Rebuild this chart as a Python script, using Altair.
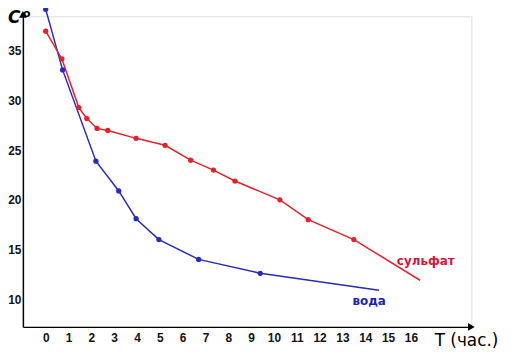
import altair as alt
import pandas as pd

# вода (water)
voda_t = [0, 0.74, 2.2, 3.2, 3.96, 4.96, 6.7, 9.4, 14.6]
voda_c = [39.2, 33.1, 23.9, 20.9, 18.1, 16.0, 14.0, 12.6, 10.9]
voda_mark = [1, 1, 1, 1, 1, 1, 1, 1, 0]

# сульфат
sulf_t = [0, 0.71, 1.45, 1.8, 2.25, 2.72, 3.96, 5.23, 6.35, 7.35, 8.29, 10.26, 11.5, 13.5, 16.4]
sulf_c = [37.0, 34.2, 29.3, 28.2, 27.2, 27.0, 26.2, 25.5, 24.0, 23.0, 21.9, 20.0, 18.0, 16.0, 11.9]
sulf_mark = [1] * 14 + [0]

x_ticks = list(range(0, 17))
y_ticks = [10, 15, 20, 25, 30, 35]

rows = []
for i, (t, c, m) in enumerate(zip(voda_t, voda_c, voda_mark)):
    rows.append({"series": "вода", "t": t, "c": c, "m": m, "i": i})
for i, (t, c, m) in enumerate(zip(sulf_t, sulf_c, sulf_mark)):
    rows.append({"series": "сульфат", "t": t, "c": c, "m": m, "i": i})
df = pd.DataFrame(rows)

FONT = "DejaVu Sans"
LFONT = "Liberation Sans"
xs = alt.Scale(domain=[-1, 18.65], nice=False, zero=False)
ys = alt.Scale(domain=[7.2, 38.5], nice=False, zero=False)
cs = alt.Scale(domain=["вода", "сульфат"], range=["#2a2ab8", "#e4202a"])

x_axis = alt.Axis(values=x_ticks, title=None, grid=False, ticks=False,
                  labelPadding=6, domainColor="black", domainWidth=1.5,
                  labelFontSize=12, labelFont=LFONT, labelFontWeight="bold",
                  labelColor="#111", labelOverlap=False)
y_axis = alt.Axis(values=y_ticks, title=None, grid=False, ticks=False,
                  labelPadding=2, domainColor="black", domainWidth=1.5,
                  labelFontSize=12, labelFont=LFONT, labelFontWeight="bold",
                  labelColor="#111", labelOverlap=False)

base = alt.Chart(df)
lines = base.mark_line(strokeWidth=1.5, clip=False).encode(
    x=alt.X("t:Q", scale=xs, axis=x_axis),
    y=alt.Y("c:Q", scale=ys, axis=y_axis),
    color=alt.Color("series:N", scale=cs, legend=None),
    detail="series:N",
    order="i:Q",
)
points = base.transform_filter("datum.m == 1").mark_circle(size=28, opacity=1, clip=False).encode(
    x=alt.X("t:Q", scale=xs, axis=x_axis),
    y=alt.Y("c:Q", scale=ys, axis=y_axis),
    color=alt.Color("series:N", scale=cs, legend=None),
)

ann = pd.DataFrame({"k": [0]})
ac = alt.Chart(ann)
arrow_y = ac.mark_point(shape="triangle-up", filled=True, color="black", size=60, opacity=1).encode(
    x=alt.value(0), y=alt.value(-2))
arrow_x = ac.mark_point(shape="triangle-right", filled=True, color="black", size=60, opacity=1).encode(
    x=alt.value(452), y=alt.value(313))
c_title = ac.mark_text(text="C", font=FONT, fontSize=17, fontStyle="italic", fontWeight="bold",
                       color="black", align="left", baseline="middle").encode(
    x=alt.value(-15), y=alt.value(2))
o_title = ac.mark_text(text="o", font=FONT, fontSize=11, fontWeight="bold",
                       color="black", align="left", baseline="middle").encode(
    x=alt.value(0), y=alt.value(-2))
t_title = ac.mark_text(text="T (час.)", font=FONT, fontSize=17, color="black",
                       align="left", baseline="middle").encode(
    x=alt.value(415), y=alt.value(327))
lab_s = ac.mark_text(text="сульфат", font=FONT, fontSize=12, fontWeight="bold", color="#d4143c",
                     align="center", baseline="middle").encode(
    x=alt.value(406), y=alt.value(247))
lab_v = ac.mark_text(text="вода", font=FONT, fontSize=12, fontWeight="bold", color="#1a22b0",
                     align="center", baseline="middle").encode(
    x=alt.value(349), y=alt.value(287))

chart = alt.layer(lines, points, arrow_y, arrow_x, c_title, o_title, t_title, lab_s, lab_v).properties(
    width=452, height=313,
    autosize=alt.AutoSizeParams(type="none"),
    padding={"left": 15, "top": 7, "right": 50, "bottom": 30},
).configure_view(stroke=None).configure_axis(labelOverlap=False).configure(background="white")

chart.save("out.html", embed_options={"renderer": "svg", "actions": False})
